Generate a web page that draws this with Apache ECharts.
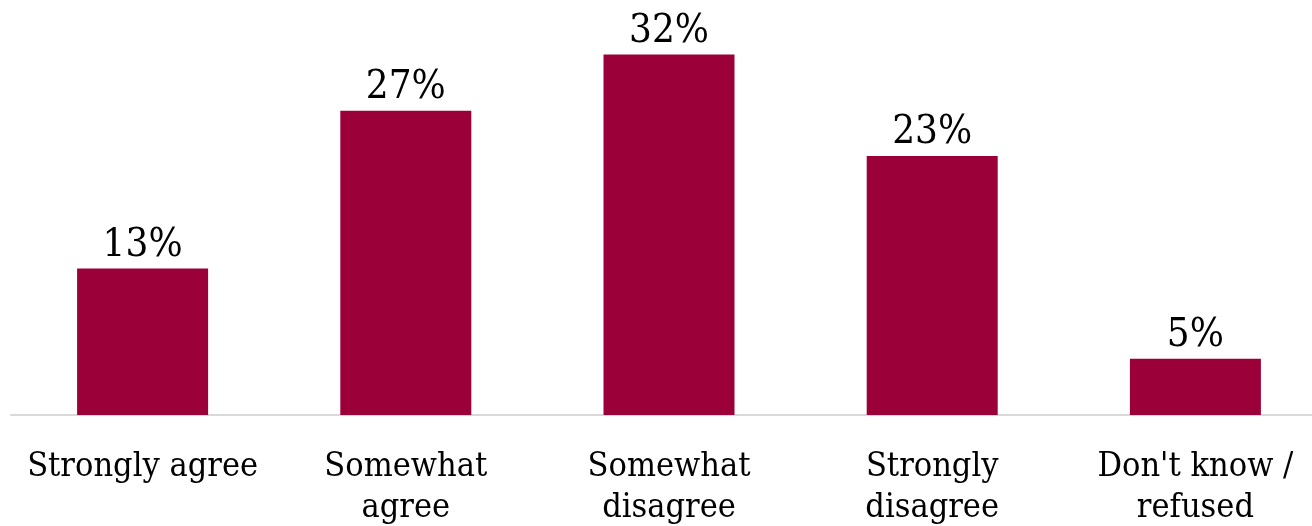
<!DOCTYPE html>
<html>
<head>
<meta charset="utf-8">
<style>
  html, body { margin: 0; padding: 0; background: #ffffff; overflow: hidden; }
  #chart { width: 1312px; height: 526px; }
</style>
<script src="https://cdn.jsdelivr.net/npm/echarts@6/dist/echarts.min.js"></script>
</head>
<body>
<div id="chart"></div>
<script>
// Survey responses, share of respondents (%)
const categories = ['Strongly agree', 'Somewhat\nagree', 'Somewhat\ndisagree', 'Strongly\ndisagree', "Don't know /\nrefused"];
const shares = [13, 27, 32, 23, 5];

const FONT = '"DejaVu Serif Condensed", "DejaVu Serif", serif';

const chart = echarts.init(document.getElementById('chart'), null, { renderer: 'canvas' });
chart.setOption({
  animation: false,
  // plot area runs slightly past the right edge so the last slot is cut off
  grid: { left: 11, width: 1316, top: 14, bottom: 111, containLabel: false, outerBoundsMode: 'none' },
  xAxis: {
    type: 'category',
    data: categories,
    axisLine: { lineStyle: { color: '#d9d9d9', width: 2 } },
    axisTick: { show: false },
    axisLabel: {
      interval: 0,
      color: '#000000',
      fontFamily: FONT,
      fontSize: 34,
      lineHeight: 41,
      margin: 32
    }
  },
  yAxis: {
    type: 'value',
    min: 0,
    max: 35.6,
    show: false,
    splitLine: { show: false }
  },
  series: [{
    type: 'bar',
    data: shares,
    barWidth: 131,
    itemStyle: { color: '#9b0039' },
    label: {
      show: true,
      position: 'top',
      distance: 3,
      formatter: '{c}%',
      color: '#000000',
      fontFamily: FONT,
      fontSize: 40
    }
  }]
});
</script>
</body>
</html>
